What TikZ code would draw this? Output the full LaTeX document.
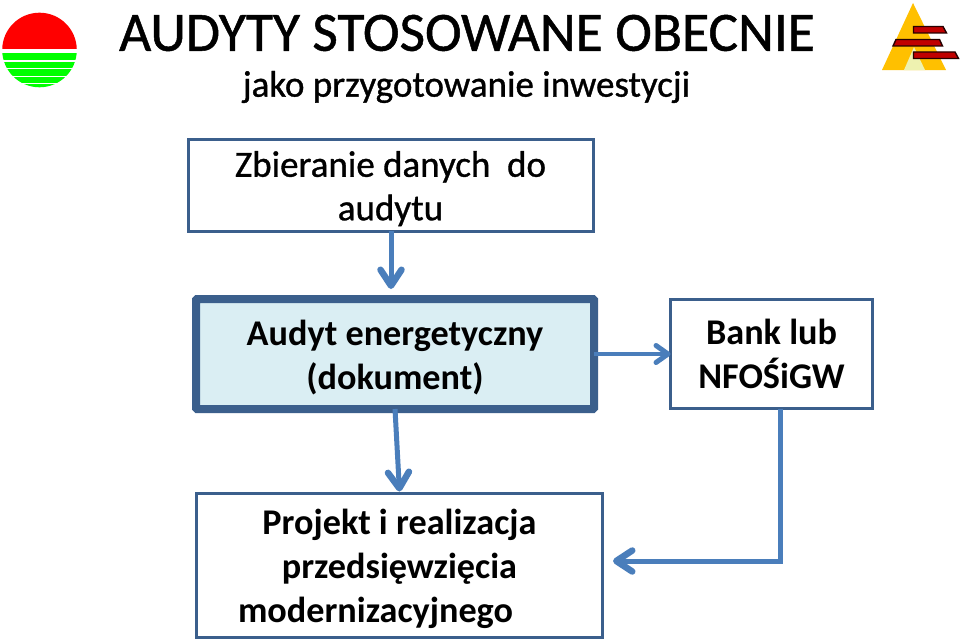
\documentclass[tikz,border=0pt]{standalone}
\usepackage{fontspec}
\setmainfont{Carlito}
\newfontfamily\heavyfont[FakeBold=0.9]{Carlito}
\newcommand{\lead}[1]{\rule{0pt}{#1pt}}
\usetikzlibrary{arrows.meta,calc}
\definecolor{boxline}{HTML}{3B5F8C}
\definecolor{arrowblue}{HTML}{4A7EBB}
\definecolor{boxfill}{HTML}{DAEEF3}
\definecolor{logored}{HTML}{FF0000}
\definecolor{logogreen}{HTML}{00FF00}
\definecolor{goldlogo}{HTML}{FFC000}
\definecolor{paleyellow}{HTML}{EEF2B0}
\definecolor{barred}{HTML}{C00000}
\tikzset{
  x=1pt,y=-1pt,
  box/.style={draw=boxline,line width=3pt,inner sep=0pt,outer sep=0pt,align=center,text=black},
  boxtext/.style={font=\fontsize{37}{43.5}\heavyfont\selectfont},
  boxbold/.style={font=\fontsize{36.2}{44}\selectfont\bfseries},
  conn/.style={draw=arrowblue,line width=5pt,-{Straight Barb[round,length=16pt,width=21pt,line width=6.5pt]}},
  connthin/.style={draw=arrowblue,line width=4pt,-{Straight Barb[round,length=12pt,width=17pt,line width=5pt]}},
  bar/.style={fill=barred,draw=black!80!barred,line width=1.4pt},
}
\begin{document}
\begin{tikzpicture}
\useasboundingbox[fill=white] (0,0) rectangle (960,642);
% left logo
\begin{scope}
\clip (39.5,50) circle (37.3);
\fill[logored] (0,0) rectangle (80,49);
\fill[logogreen] (0,52.8) rectangle (80,59.6);
\fill[logogreen] (0,61.5) rectangle (80,67.5);
\fill[logogreen] (0,69) rectangle (80,75.5);
\fill[logogreen] (0,77) rectangle (80,82.5);
\fill[logogreen] (0,83.5) rectangle (80,88);
\end{scope}
% right logo
\fill[goldlogo] (913,3) -- (946,70) -- (882,70) -- cycle;
\fill[paleyellow] (914,47) -- (925,70) -- (904,70) -- cycle;
\draw[bar] (913.5,26.5) -- (943,26.5) -- (946.5,33) -- (913.5,33) -- cycle;
\draw[bar] (896,39.5) -- (939.5,39.5) -- (942.5,46) -- (893,46) -- cycle;
\draw[bar] (913.5,52) -- (955,52) -- (958.5,58.5) -- (913.5,58.5) -- cycle;
% titles
\node[inner sep=0pt,font=\fontsize{55.4}{55.4}\heavyfont\selectfont] (title) at (467,33) {AUDYTY STOSOWANE OBECNIE};
\node[inner sep=0pt,font=\fontsize{37}{37}\heavyfont\selectfont] (sub) at (466.5,87) {jako przygotowanie inwestycji};
% boxes
\node[box,boxtext,minimum width=405pt,minimum height=92pt] (b1) at (390.5,185) {\lead{33}Zbieranie danych\ \ do\\audytu};
\node[box,boxbold,fill=boxfill,line width=8pt,rounded corners=1pt,minimum width=398pt,minimum height=110pt] (b2) at (395,354) {\lead{31.5}Audyt energetyczny\\(dokument)};
\node[box,boxbold,minimum width=202pt,minimum height=109pt] (b3) at (771.5,354) {Bank lub\\NFOŚiGW};
\node[box,boxbold,minimum width=406pt,minimum height=143.5pt] (b4) at (399.5,565.25) {\lead{33}Projekt i realizacja\\przedsięwzięcia\\modernizacyjnego\hspace*{48pt}};
% connectors
\coordinate (c4) at (613,561);
\path[conn] ($(b1.south)+(0.5,0)$) -- ($(b2.north)+(-4,-10)$);
\path[conn] (b2.south) -- ($(b4.north)+(0,-2)$);
\path[connthin] (b2.east) -- (b3.west);
\path[conn] ($(b3.south)+(8.5,0)$) |- (c4);
\end{tikzpicture}
\end{document}
